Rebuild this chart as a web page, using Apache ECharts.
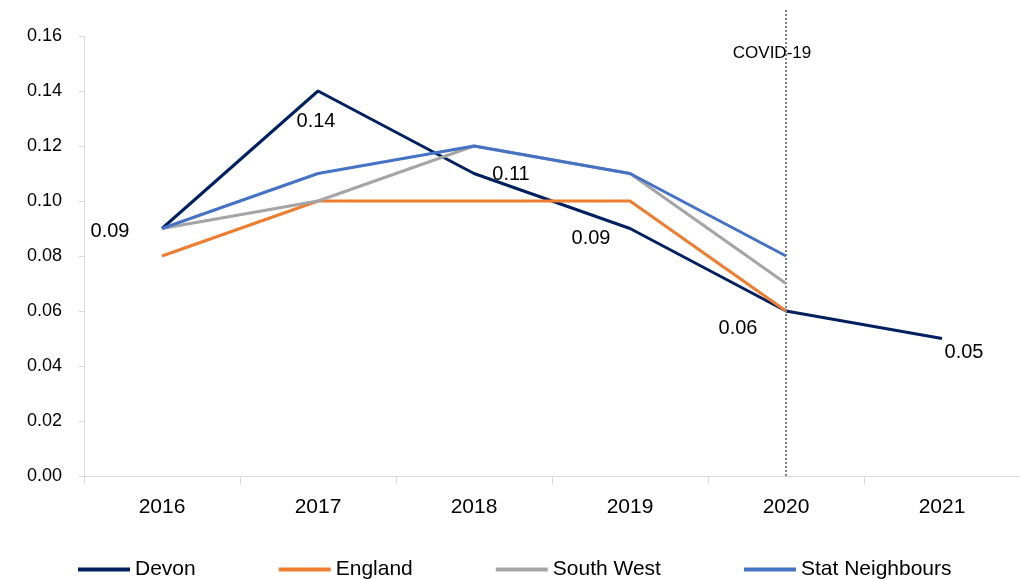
<!DOCTYPE html>
<html>
<head>
<meta charset="utf-8">
<script src="https://cdn.jsdelivr.net/npm/echarts@6/dist/echarts.min.js"></script>
<style>
  html, body { margin: 0; padding: 0; background: #ffffff; }
  #chart { width: 1020px; height: 579px; }
</style>
</head>
<body>
<div id="chart"></div>
<script>
// Years on the category axis
const years = ['2016', '2017', '2018', '2019', '2020', '2021'];

// Rates per series (null where no figure published)
const devon = [0.09, 0.14, 0.11, 0.09, 0.06, 0.05];
const england = [0.08, 0.10, 0.10, 0.10, 0.06, null];
const southWest = [0.09, 0.10, 0.12, 0.11, 0.07, null];
const statNeighbours = [0.09, 0.11, 0.12, 0.11, 0.08, null];

// Y axis scale
const yMin = 0;
const yMax = 0.16;
const yStep = 0.02;

// Vertical marker for the pandemic year; it runs a little above the plot
const covidYear = '2020';
const covidText = 'COVID-19';
const markerTop = 0.17;

const FONT = 'Liberation Sans';

// Offset of each Devon value label from its point
const devonLabelOffsets = [
  [-52, 3], [-2, 30], [37, 1], [-39, 10], [-48, 17], [22, 14]
];

const devonData = devon.map((v, i) => ({
  value: v,
  label: {
    show: true,
    position: 'inside',
    offset: devonLabelOffsets[i],
    formatter: (p) => p.value.toFixed(2),
    color: '#000000',
    fontSize: 20,
    fontFamily: FONT
  }
}));

function lineSeries(name, data, color, extra) {
  return Object.assign({
    name: name,
    type: 'line',
    data: data,
    symbol: 'none',
    showSymbol: false,
    connectNulls: false,
    animation: false,
    lineStyle: { color: color, width: 3 },
    itemStyle: { color: color }
  }, extra || {});
}

const chart = echarts.init(document.getElementById('chart'), null, { renderer: 'canvas' });

chart.setOption({
  backgroundColor: '#ffffff',
  animation: false,
  grid: [
    { left: 84, right: 0, top: 36, bottom: 103, containLabel: false },
    // same columns, taller, so the marker can reach above the plot
    { left: 84, right: 0, top: 8, bottom: 103, containLabel: false }
  ],
  legend: {
    left: 78,
    top: 559,
    padding: 0,
    itemWidth: 52,
    itemHeight: 4,
    itemGap: 83,
    icon: 'rect',
    textStyle: { fontSize: 21, fontFamily: FONT, color: '#000000' },
    data: ['Devon', 'England', 'South West', 'Stat Neighbours']
  },
  xAxis: [
    {
      type: 'category',
      gridIndex: 0,
      data: years,
      boundaryGap: true,
      axisLine: { show: true, lineStyle: { color: '#d9d9d9', width: 1 } },
      axisTick: { show: true, alignWithLabel: false, length: 8, lineStyle: { color: '#d9d9d9' } },
      axisLabel: { color: '#000000', fontSize: 21, fontFamily: FONT, margin: 21 },
      splitLine: { show: false }
    },
    {
      type: 'category',
      gridIndex: 1,
      data: years,
      boundaryGap: true,
      show: false
    }
  ],
  yAxis: [
    {
      type: 'value',
      gridIndex: 0,
      min: yMin,
      max: yMax,
      interval: yStep,
      axisLine: { show: true, lineStyle: { color: '#d9d9d9', width: 1 } },
      axisTick: { show: true, length: 5, lineStyle: { color: '#d9d9d9' } },
      axisLabel: {
        color: '#000000', fontSize: 18, fontFamily: FONT, margin: 22,
        formatter: (v) => v.toFixed(2)
      },
      splitLine: { show: false }
    },
    {
      type: 'value',
      gridIndex: 1,
      min: yMin,
      max: markerTop,
      show: false,
      splitLine: { show: false }
    }
  ],
  series: [
    {
      name: 'marker',
      type: 'line',
      xAxisIndex: 1,
      yAxisIndex: 1,
      data: years.map(() => null),
      symbol: 'none',
      animation: false,
      z: 1,
      markLine: {
        silent: true,
        symbol: ['none', 'none'],
        animation: false,
        lineStyle: { color: '#7f7f7f', type: [2, 2], width: 2 },
        label: { show: false },
        data: [[
          { coord: [covidYear, yMin] },
          { coord: [covidYear, markerTop] }
        ]]
      }
    },
    lineSeries('Devon', devonData, '#002060', {
      z: 3,
      symbol: 'circle',
      symbolSize: 0,
      showSymbol: true,
      markPoint: {
        silent: true,
        symbol: 'circle',
        symbolSize: 0,
        animation: false,
        label: {
          show: true,
          position: 'inside',
          formatter: covidText,
          color: '#000000',
          fontSize: 17,
          fontFamily: FONT,
          offset: [-14, 0]
        },
        data: [{ coord: [covidYear, 0.1538] }]
      }
    }),
    lineSeries('England', england, '#ED7D31', { z: 4 }),
    lineSeries('South West', southWest, '#A5A5A5', { z: 5 }),
    lineSeries('Stat Neighbours', statNeighbours, '#4472C4', { z: 6 })
  ]
});
</script>
</body>
</html>
